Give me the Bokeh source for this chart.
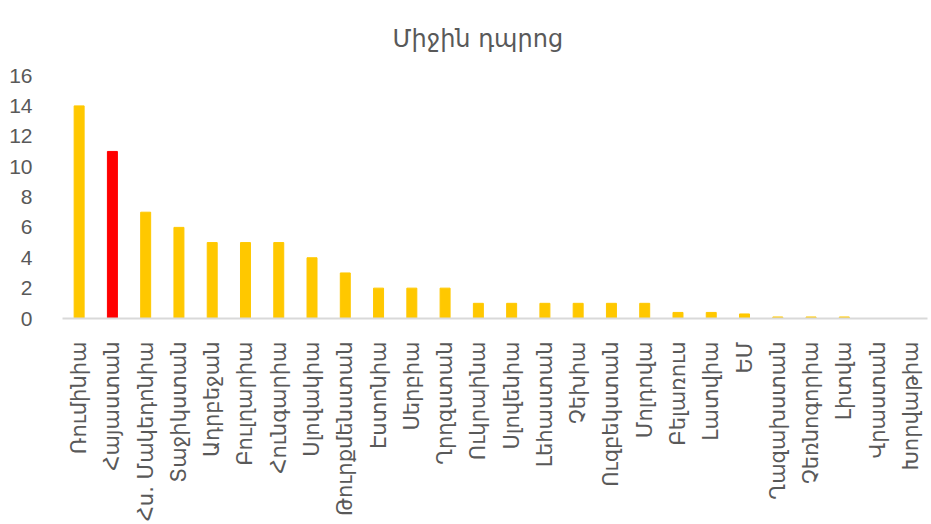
from bokeh.plotting import figure
from bokeh.models import Range1d, ColumnDataSource
from bokeh.embed import file_html
from bokeh.resources import INLINE
import math

title_text = "Միջին դպրոց"
categories = ["Ռումինիա", "Հայաստան", "Հս. Մակեդոնիա", "Տաջիկստան", "Ադրբեջան",
              "Բուլղարիա", "Հունգարիա", "Սլովակիա", "Թուրքմենստան", "Էստոնիա",
              "Սերբիա", "Ղրղզստան", "Ուկրաինա", "Սլովենիա", "Լեհաստան",
              "Չեխիա", "Ուզբեկստան", "Մոլդովա", "Բելառուս", "Լատվիա",
              "ԵՄ", "Ղազախստան", "Չեռնոգորիա", "Լիտվա", "Վրաստան", "Խորվաթիա"]
values = [14, 11, 7, 6, 5, 5, 5, 4, 3, 2, 2, 2, 1, 1, 1, 1, 1, 1, 0.4, 0.4, 0.3, 0.1, 0.1, 0.1, 0, 0]
highlight = "Հայաստան"

colors = ["#FF0000" if c == highlight else "#FFC800" for c in categories]
src = ColumnDataSource(dict(x=categories, top=values, color=colors))

p = figure(x_range=categories, width=931, height=524, output_backend="svg",
           toolbar_location=None, title=title_text)
p.y_range = Range1d(0, 16)
p.vbar(x="x", top="top", width=0.3, color="color", source=src)

p.title.align = "left"
p.title.offset = 330
p.title.text_font = "DejaVu Sans"
p.title.text_font_size = "24px"
p.title.text_font_style = "normal"
p.title.text_color = "#595959"
p.title.standoff = 45

p.xgrid.visible = False
p.ygrid.visible = False
p.outline_line_color = None

p.yaxis.axis_line_color = None
p.yaxis.major_tick_line_color = None
p.yaxis.minor_tick_line_color = None
p.yaxis.ticker = list(range(0, 17, 2))
p.yaxis.major_label_text_font = "Liberation Sans"
p.yaxis.major_label_text_font_size = "21px"
p.yaxis.major_label_text_color = "#595959"
p.yaxis.major_label_standoff = 24

p.xaxis.axis_line_color = "#D9D9D9"
p.xaxis.axis_line_width = 2
p.xaxis.major_tick_line_color = None
p.xaxis.minor_tick_line_color = None
p.xaxis.major_label_orientation = math.pi / 2
p.xaxis.major_label_text_font = "DejaVu Sans"
p.xaxis.major_label_text_font_size = "21px"
p.xaxis.major_label_text_color = "#595959"
p.xaxis.major_label_standoff = 17

p.min_border_left = 62
p.min_border_right = 4
p.min_border_top = 73
p.min_border_bottom = 202

open("out.html", "w").write(file_html(p, INLINE))
